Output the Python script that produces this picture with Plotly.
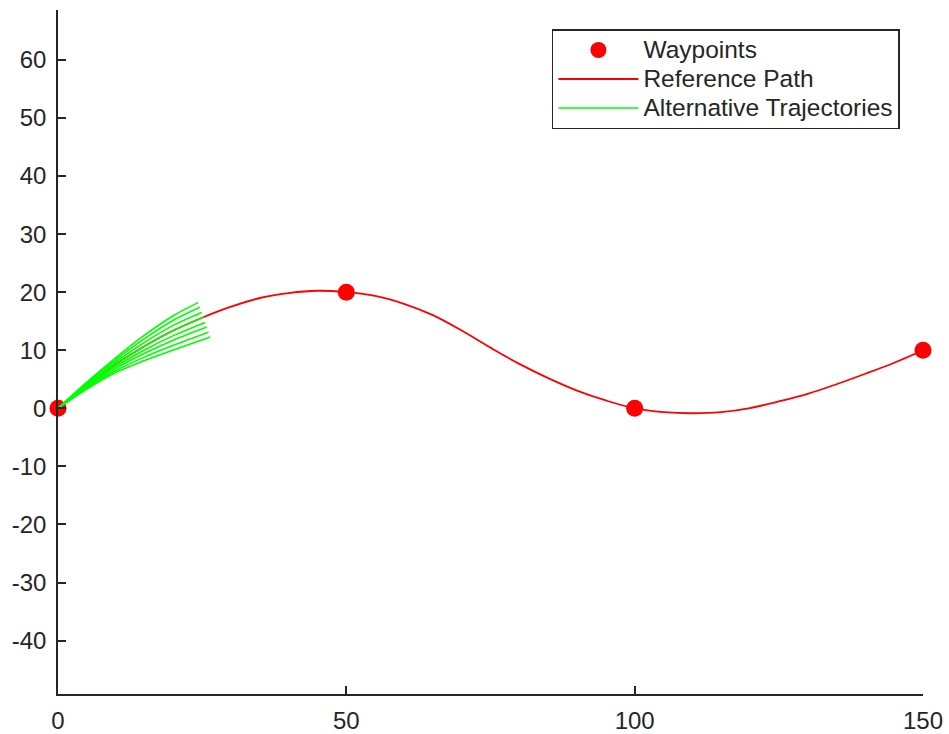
import plotly.graph_objects as go

# ---------------- data ----------------
waypoints_x = [0, 50, 100, 150]
waypoints_y = [0, 20, 0, 10]

path_x = [0, 5, 10, 15, 20, 25, 30, 35, 40, 45, 50, 55, 60, 65, 70, 75, 80,
          85, 90, 95, 100, 105, 110, 115, 120, 125, 130, 135, 140, 145, 150]
path_y = [0, 4.0, 7.6, 10.7, 13.4, 15.6, 17.5, 19.0, 19.85, 20.25, 20.0,
          19.35, 18.0, 16.05, 13.4, 10.45, 7.65, 5.2, 3.05, 1.35, 0.0,
          -0.65, -0.85, -0.65, 0.05, 1.2, 2.5, 4.15, 5.95, 7.85, 10.0]

traj_x = [
    [0, 5, 10, 15, 20, 24.3],
    [0, 5, 10, 15, 20, 24.6],
    [0, 5, 10, 15, 20, 24.9],
    [0, 5, 10, 15, 20, 25.2],
    [0, 5, 10, 15, 20, 25.5],
    [0, 5, 10, 15, 20, 25.8],
    [0, 5, 10, 15, 20, 26.1],
    [0, 5, 10, 15, 20, 26.4],
]
traj_y = [
    [0, 4.50, 8.70, 12.60, 15.95, 18.2],
    [0, 4.36, 8.36, 12.00, 15.16, 17.4],
    [0, 4.18, 7.98, 11.35, 14.28, 16.5],
    [0, 4.00, 7.60, 10.70, 13.40, 15.7],
    [0, 3.82, 7.22, 10.05, 12.52, 14.8],
    [0, 3.66, 6.88, 9.47, 11.73, 14.0],
    [0, 3.48, 6.50, 8.82, 10.85, 13.1],
    [0, 3.32, 6.16, 8.23, 10.06, 12.3],
]

x_ticks = [0, 50, 100, 150]
x_tick_labels = ["0", "50", "100", "150"]
y_ticks = [-40, -30, -20, -10, 0, 10, 20, 30, 40, 50, 60]
y_tick_labels = ["-40", "-30", "-20", "-10", "0", "10", "20", "30", "40", "50", "60"]

legend_names = ["Waypoints", "Reference Path", "Alternative Trajectories"]

# ---------------- figure ----------------
AX = "#262626"
FONT = "Liberation Sans, Arial, sans-serif"


def big(name):
    return "<span style='font-size:24.5px'>" + name + "</span>"


fig = go.Figure()

fig.add_trace(go.Scatter(
    x=waypoints_x, y=waypoints_y, mode="markers", name=big(legend_names[0]),
    marker=dict(color="#ff0000", size=17, line=dict(width=0)),
    cliponaxis=False,
))
fig.add_trace(go.Scatter(
    x=path_x, y=path_y, mode="lines", name=big(legend_names[1]),
    line=dict(color="#ff0000", width=1.8, shape="spline", smoothing=1.0),
))
for i, (tx, ty) in enumerate(zip(traj_x, traj_y)):
    fig.add_trace(go.Scatter(
        x=tx, y=ty, mode="lines", name=big(legend_names[2]),
        legendgroup="alt", showlegend=(i == 0),
        line=dict(color="#00ff00", width=1.6, shape="spline", smoothing=0.9),
    ))

axis_common = dict(
    showline=True, linecolor=AX, linewidth=1.5, mirror=False,
    ticks="inside", ticklen=8, tickwidth=1.5, tickcolor=AX,
    showgrid=False, zeroline=False, automargin=False,
    tickfont=dict(family=FONT, size=24, color=AX),
)

fig.update_layout(
    width=949, height=734,
    margin=dict(l=58, r=26, t=10, b=40),
    paper_bgcolor="white", plot_bgcolor="white",
    xaxis=dict(range=[0, 150], tickvals=x_ticks, ticktext=x_tick_labels,
               ticklabelstandoff=4, **axis_common),
    yaxis=dict(range=[-49.2, 68.6], tickvals=y_ticks, ticktext=y_tick_labels,
               ticklabelstandoff=5, **axis_common),
    legend=dict(
        x=0.571, y=0.9722, xanchor="left", yanchor="top",
        bordercolor=AX, borderwidth=1.5, bgcolor="white",
        font=dict(family=FONT, size=20, color=AX),
        itemwidth=80, tracegroupgap=0,
    ),
    showlegend=True,
)

fig.write_html("out.html", config={"displayModeBar": False},
               post_script="document.body.style.margin='0';document.body.style.overflow='hidden';")
